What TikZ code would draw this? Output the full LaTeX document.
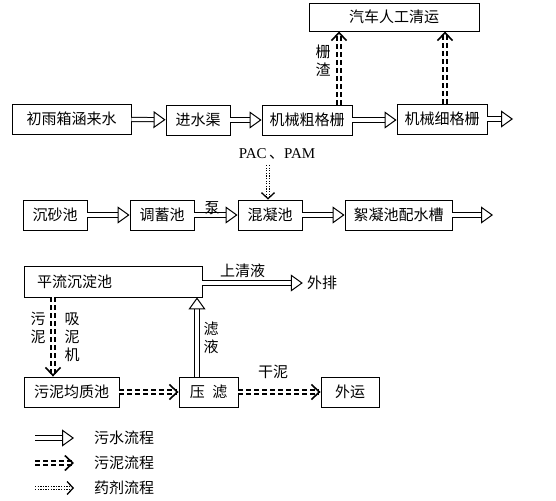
\documentclass[tikz,border=0pt]{standalone}
\usepackage{fontspec}
\setmainfont{Liberation Serif}
\newfontfamily\cjk{Noto Sans CJK SC}
\usetikzlibrary{arrows.meta}

\begin{document}
\begin{tikzpicture}[x=1pt, y=-1pt,
  font=\cjk\fontsize{15}{18}\selectfont,
  box/.style={draw, line width=0.9pt, minimum height=30pt, inner sep=2pt},
  water/.style={double, double distance=3.2pt, line width=1pt, -{Triangle[open, length=12pt, width=17pt, line width=1pt]}},
  sludge/.style={double, double distance=1.6pt, line width=2pt, dash pattern=on 5pt off 3pt, -{Straight Barb[length=8pt, width=15pt, line width=1.6pt]}},
  drug/.style={double, double distance=2pt, line width=1.3pt, dash pattern=on 1.3pt off 1.3pt, -{Straight Barb[length=6pt, width=13pt, line width=1.3pt]}},
  lbl/.style={inner sep=1pt, align=center}]
  \useasboundingbox (0,0) rectangle (556,500);

  % row 1
  \node[box, minimum width=119pt] (rain) at (71.5,119) {初雨箱涵来水};
  \node[box, minimum width=64pt] (qu) at (198,120) {进水渠};
  \node[box, minimum width=90pt] (cu) at (307,120) {机械粗格栅};
  \node[box, minimum width=90pt] (xi) at (442,119) {机械细格栅};
  \node[box, minimum width=170pt, minimum height=28pt] (car) at (394,17) {汽车人工清运};
  \coordinate (xiout) at (513,119);

  \draw[water] (rain) -- (qu);
  \draw[water] (qu) -- (cu);
  \draw[water] (cu) -- (xi.west |- cu);
  \draw[water] (xi) -- (xiout);
  \draw[sludge] (cu.north -| 339,0) -- (car.south -| 339,0);
  \draw[sludge] (xi.north -| 445,0) -- (car.south -| 445,0);
  \node[lbl] (zha) at (323,61) {栅\\渣};

  % row 2
  \node[font=\fontsize{15}{18}\selectfont] (pac) at (277,154) {PAC\,{\cjk 、}PAM};
  \node[box, minimum width=64pt] (sha) at (55,215) {沉砂池};
  \node[box, minimum width=64pt] (tiao) at (162,215) {调蓄池};
  \node[box, minimum width=64pt] (hun) at (270,215) {混凝池};
  \node[box, minimum width=107pt] (xu) at (398.5,215) {絮凝池配水槽};
  \coordinate (xuout) at (493,215);

  \draw[drug] (pac.south -| hun) ++(-2,2) -- (hun.north -| 268,0);
  \draw[water] (sha) -- (tiao);
  \draw[water] (tiao) -- (hun) node[lbl, midway, above, xshift=-4pt, yshift=-1pt] (beng) {泵};
  \draw[water] (hun) -- (xu);
  \draw[water] (xu) -- (xuout);

  % sludge part
  \node[box, minimum width=178pt, minimum height=31pt, text width=152pt, align=left] (ping) at (113,281.5) {平流沉淀池};
  \node[inner sep=4pt] (pai) at (322,283) {外排};
  \node[box, minimum width=95pt] (jun) at (71.5,392) {污泥均质池};
  \node[box, minimum width=59pt] (ya) at (208.5,392) {压\enspace 滤};
  \node[box, minimum width=58pt] (yun) at (350,392) {外运};

  \draw[water] (ping.east |- pai) -- (pai.west) node[lbl, pos=0.4, above=4pt] (qing) {上清液};
  \draw[sludge] (ping.south -| 53,0) -- (jun.north -| 53,0);
  \node[lbl] (wu) at (38,328) {污\\泥};
  \node[lbl] (xini) at (72,337) {吸\\泥\\机};
  \draw[water] (ya.north -| 197,0) -- (ping.south -| 197,0);
  \node[lbl] (lv) at (211,338) {滤\\液};
  \draw[sludge] (jun) -- (ya);
  \draw[sludge] (ya) -- (yun);
  \node[lbl] (gan) at (273,372) {干泥};

  % legend
  \foreach \y/\s/\t in {438/water/污水流程, 463/sludge/污泥流程, 488/drug/药剂流程} {
    \coordinate (l1) at (35,\y);
    \coordinate (l2) at (74,\y);
    \draw[\s] (l1) -- (l2);
    \node (t\y) at (124,\y) {\t};
  }
\end{tikzpicture}
\end{document}
